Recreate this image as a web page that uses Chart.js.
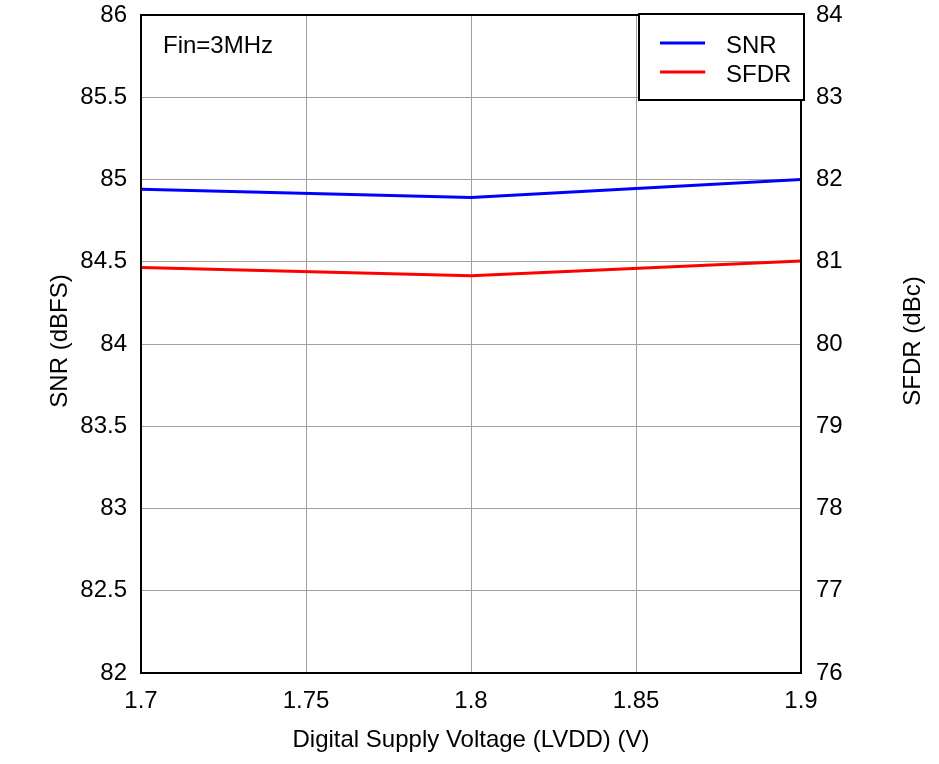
<!DOCTYPE html>
<html>
<head>
<meta charset="utf-8">
<script src="https://cdn.jsdelivr.net/npm/chart.js@4/dist/chart.umd.min.js"></script>
<style>
  html, body { margin: 0; padding: 0; background: #fff; }
  #wrap { width: 939px; height: 764px; position: relative; }
</style>
</head>
<body>
<div id="wrap"><canvas id="chart" width="939" height="764"></canvas></div>
<script>
// supply voltage (V)
const voltages = [1.7, 1.8, 1.9];
// SNR (dBFS), left axis
const snrValues = [84.94, 84.89, 85.0];
// SFDR (dBc), right axis
const sfdrValues = [80.93, 80.83, 81.01];

const leftTicks = [82, 82.5, 83, 83.5, 84, 84.5, 85, 85.5, 86];
const rightTicks = [76, 77, 78, 79, 80, 81, 82, 83, 84];
const xTicks = [1.7, 1.75, 1.8, 1.85, 1.9];

const FONT = 'Liberation Sans, Arial, sans-serif';
const SIZE = 24;

const frame = {
  id: 'frame',
  afterDraw(chart) {
    const { ctx, chartArea: a } = chart;
    ctx.save();
    // plot border
    ctx.strokeStyle = '#000';
    ctx.lineWidth = 2;
    ctx.strokeRect(a.left, a.top, a.right - a.left, a.bottom - a.top);

    // annotation
    ctx.fillStyle = '#000';
    ctx.font = SIZE + 'px ' + FONT;
    ctx.textBaseline = 'middle';
    ctx.textAlign = 'left';
    ctx.fillText('Fin=3MHz', 163, 46);

    // legend box
    const bx = 639, by = 14, bw = 165, bh = 86;
    ctx.fillStyle = '#fff';
    ctx.fillRect(bx, by, bw, bh);
    ctx.strokeRect(bx, by, bw, bh);
    chart.data.datasets.forEach((ds, i) => {
      const y = 43 + i * 29;
      ctx.strokeStyle = ds.borderColor;
      ctx.lineWidth = 3;
      ctx.beginPath();
      ctx.moveTo(660, y);
      ctx.lineTo(705, y);
      ctx.stroke();
      ctx.fillStyle = '#000';
      ctx.fillText(ds.label, 726, y + 3);
    });

    // axis titles
    ctx.textAlign = 'center';
    ctx.fillText('Digital Supply Voltage (LVDD) (V)', 471, 740);
    ctx.save();
    ctx.translate(60, 341);
    ctx.rotate(-Math.PI / 2);
    ctx.fillText('SNR (dBFS)', 0, 0);
    ctx.restore();
    ctx.save();
    ctx.translate(913, 341);
    ctx.rotate(-Math.PI / 2);
    ctx.fillText('SFDR (dBc)', 0, 0);
    ctx.restore();
    ctx.restore();
  }
};

const fmt = v => String(Number(Number(v).toFixed(2)));

new Chart(document.getElementById('chart'), {
  type: 'line',
  data: {
    datasets: [
      {
        label: 'SNR',
        data: voltages.map((v, i) => ({ x: v, y: snrValues[i] })),
        borderColor: '#0000ff',
        borderWidth: 3,
        pointRadius: 0,
        tension: 0,
        yAxisID: 'y'
      },
      {
        label: 'SFDR',
        data: voltages.map((v, i) => ({ x: v, y: sfdrValues[i] })),
        borderColor: '#ff0000',
        borderWidth: 3,
        pointRadius: 0,
        tension: 0,
        yAxisID: 'y2'
      }
    ]
  },
  options: {
    responsive: false,
    animation: false,
    layout: { padding: { top: 15, left: 0, right: 0, bottom: 0 } },
    plugins: {
      legend: { display: false },
      tooltip: { enabled: false }
    },
    scales: {
      x: {
        type: 'linear',
        min: 1.7,
        max: 1.9,
        afterBuildTicks: s => { s.ticks = xTicks.map(v => ({ value: v })); },
        afterFit: s => { s.height = 91; s.paddingLeft = 0; s.paddingRight = 0; },
        grid: { color: '#a0a0a0', lineWidth: 1, drawTicks: false },
        border: { display: false },
        ticks: {
          color: '#000',
          font: { family: FONT, size: SIZE },
          padding: 14,
          maxRotation: 0,
          callback: v => fmt(v)
        }
      },
      y: {
        position: 'left',
        min: 82,
        max: 86,
        afterBuildTicks: s => { s.ticks = leftTicks.map(v => ({ value: v })); },
        afterFit: s => { s.width = 141; s.paddingTop = 0; s.paddingBottom = 0; },
        grid: { color: '#a0a0a0', lineWidth: 1, drawTicks: false },
        border: { display: false },
        ticks: {
          color: '#000',
          font: { family: FONT, size: SIZE },
          padding: 14,
          callback: v => fmt(v)
        }
      },
      y2: {
        position: 'right',
        min: 76,
        max: 84,
        afterBuildTicks: s => { s.ticks = rightTicks.map(v => ({ value: v })); },
        afterFit: s => { s.width = 138; s.paddingTop = 0; s.paddingBottom = 0; },
        grid: { display: false, drawTicks: false },
        border: { display: false },
        ticks: {
          color: '#000',
          font: { family: FONT, size: SIZE },
          padding: 15,
          callback: v => fmt(v)
        }
      }
    }
  },
  plugins: [frame]
});
</script>
</body>
</html>
